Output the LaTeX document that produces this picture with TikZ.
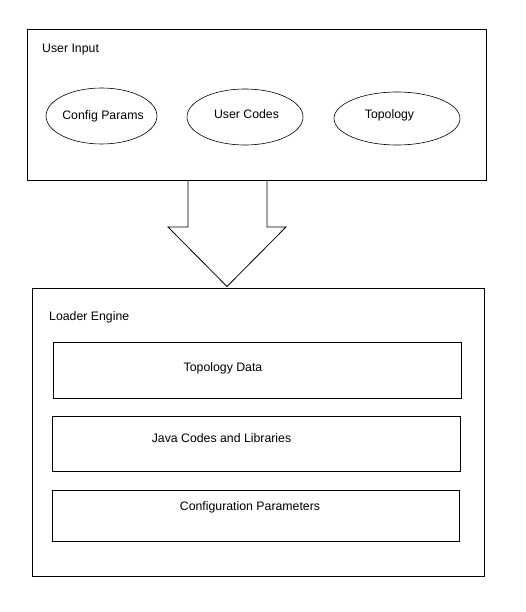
\documentclass[tikz,border=0pt]{standalone}
\usepackage{fontspec}
\setmainfont{Liberation Sans}
\usetikzlibrary{shapes.geometric}
\begin{document}
\begin{tikzpicture}[x=1pt,y=-1pt,
  box/.style={draw,line width=1pt,inner sep=0pt},
  oval/.style={draw,ellipse,line width=0.6pt,inner sep=0pt},
  lbl/.style={font=\fontsize{12.3}{14}\selectfont,inner sep=0pt,anchor=base}]
\useasboundingbox (0,0) rectangle (525,612);
% top container
\node[box,minimum width=458.5pt,minimum height=151.5pt] (input) at (256.75,105.25) {};
\node[lbl,anchor=base west] (inputlbl) at (42,52.5) {User Input};
\node[oval,minimum width=111pt,minimum height=56pt] (cfg) at (101.5,116) {};
\node[lbl] (cfglbl) at (103,120) {Config Params};
\node[oval,minimum width=116pt,minimum height=56pt] (codes) at (245,117) {};
\node[lbl] (codeslbl) at (246.5,119) {User Codes};
\node[oval,minimum width=126pt,minimum height=53pt] (topo) at (397,118.5) {};
\node[lbl] (topolbl) at (389.5,118.5) {Topology};
% block arrow
\coordinate (al) at (188,181);
\coordinate (ar) at (267,181);
\coordinate (tip) at (227,286.5);
\draw[line width=0.8pt,line join=miter] (al) -- (188,227) -- (168,227) -- (tip) -- (286,227) -- (267,227) -- (ar);
% bottom container
\node[box,minimum width=452pt,minimum height=288.5pt] (loader) at (258.5,432.25) {};
\node[lbl,anchor=base west] (loaderlbl) at (49,320.5) {Loader Engine};
\node[box,minimum width=408pt,minimum height=56pt] (tdata) at (257,370) {};
\node[lbl] (tdatalbl) at (223,371) {Topology Data};
\node[box,minimum width=408pt,minimum height=55pt] (java) at (256,443.8) {};
\node[lbl] (javalbl) at (221.5,442.5) {Java Codes and Libraries};
\node[box,minimum width=407pt,minimum height=51pt] (conf) at (255.5,515.8) {};
\node[lbl] (conflbl) at (250,510.7) {Configuration Parameters};
\end{tikzpicture}
\end{document}
